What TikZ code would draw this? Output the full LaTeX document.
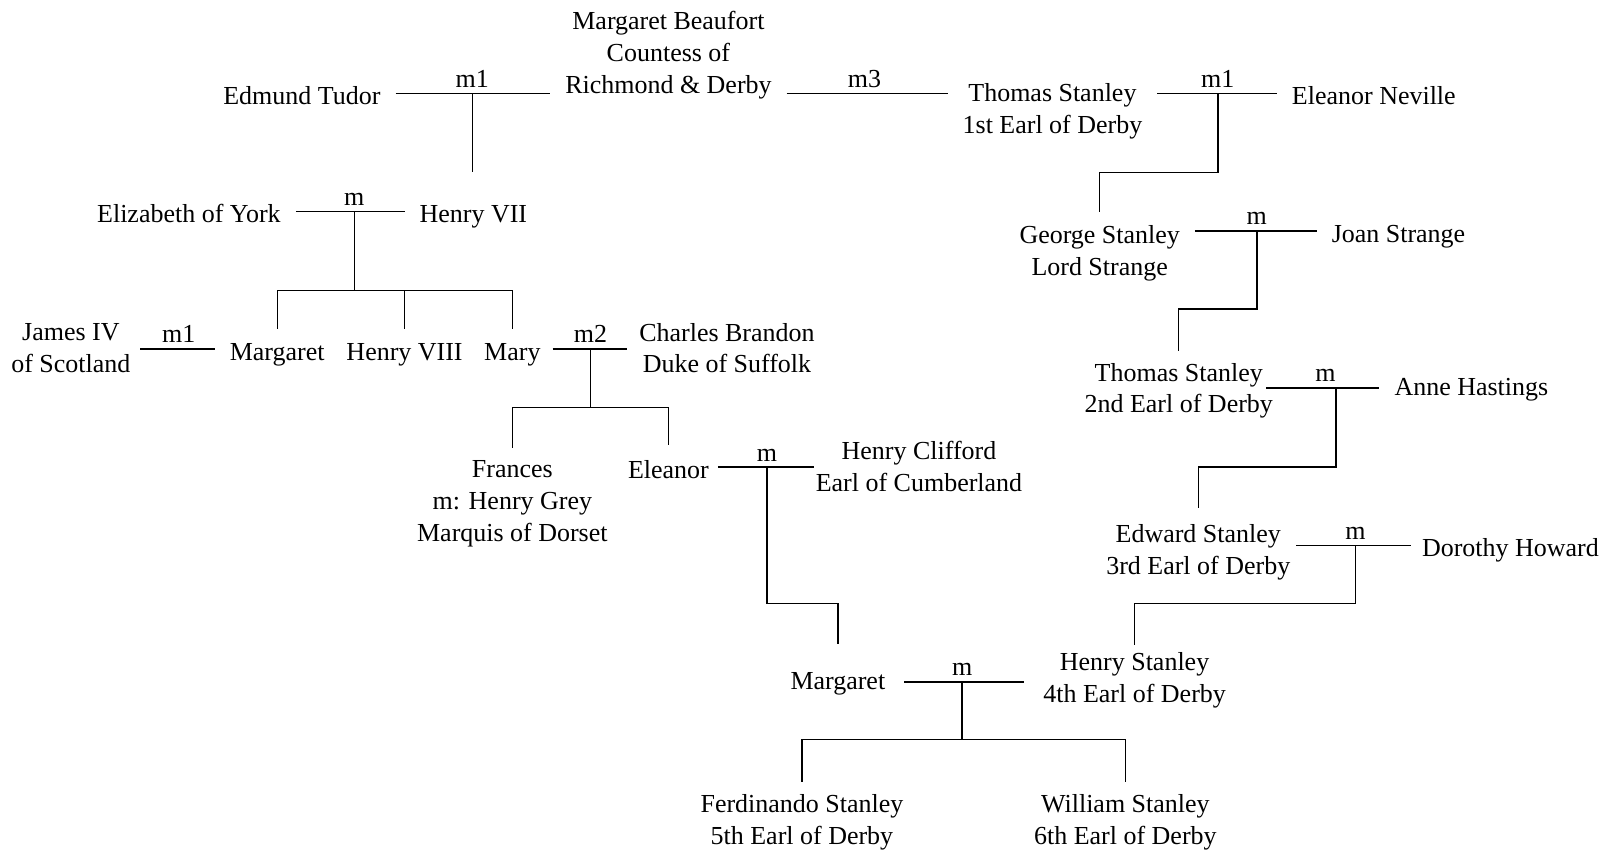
\documentclass[tikz,border=0pt]{standalone}
\usepackage{fontspec}
\setmainfont{Liberation Serif}
\begin{document}
\begin{tikzpicture}[x=0.5pt,y=-0.5pt,line width=0.7pt,
  person/.style={align=center,inner ysep=0pt,inner xsep=7pt,font=\fontsize{12.65}{15.5}\selectfont,
    execute at begin node=\strut,execute at end node=\strut},
  mlabel/.style={anchor=base,inner sep=0pt,font=\fontsize{12.65}{15.5}\selectfont}]
\useasboundingbox (0,0) rectangle (1568,829);
\node[person] (edmund) at (294,95.5) {Edmund Tudor};
\node[person] (beaufort) at (651,55.5) {Margaret Beaufort\\Countess of\\Richmond \& Derby};
\node[person] (stanleyA) at (1025,110.5) {Thomas Stanley\\1st Earl of Derby};
\node[person] (eleanorN) at (1338,95.5) {Eleanor Neville};
\node[person] (elizabeth) at (184,210.5) {Elizabeth of York};
\node[person] (henry7) at (461,210.5) {Henry VII};
\node[person] (james) at (69,343.5) {James IV\\of Scotland};
\node[person] (margaretT) at (270,344.5) {Margaret};
\node[person] (henry8) at (394,344.5) {Henry VIII};
\node[person] (mary) at (499,344.5) {Mary};
\node[person] (brandon) at (708,343.5) {Charles Brandon\\Duke of Suffolk};
\node[person] (frances) at (499,492.5) {Frances\\m: Henry Grey\\Marquis of Dorset};
\node[person] (eleanorB) at (651,459.5) {Eleanor};
\node[person] (clifford) at (895,458.5) {Henry Clifford\\Earl of Cumberland};
\node[person] (george) at (1071,248.5) {George Stanley\\Lord Strange};
\node[person] (joan) at (1362,229.5) {Joan Strange};
\node[person] (stanleyB) at (1148,382.5) {Thomas Stanley\\2nd Earl of Derby};
\node[person] (anne) at (1433,378.5) {Anne Hastings};
\node[person] (edward) at (1167,539.5) {Edward Stanley\\3rd Earl of Derby};
\node[person] (dorothy) at (1471,535.5) {Dorothy Howard};
\node[person] (henryS) at (1105,664.5) {Henry Stanley\\4th Earl of Derby};
\node[person] (margaretC) at (816,665.5) {Margaret};
\node[person] (ferdinando) at (781,802.5) {Ferdinando Stanley\\5th Earl of Derby};
\node[person] (william) at (1096,802.5) {William Stanley\\6th Earl of Derby};
\coordinate (j1) at (460,91);
\coordinate (j2) at (842,91);
\coordinate (j3) at (1186,91);
\coordinate (j4) at (345,206);
\coordinate (j5) at (174,340);
\coordinate (j6) at (575,340);
\coordinate (j7) at (747,455);
\coordinate (j8) at (1224,225);
\coordinate (j9) at (1301,378);
\coordinate (j10) at (1320,531);
\coordinate (j11) at (937,664);
\node[mlabel] (l1) at (460,85) {m1};
\node[mlabel] (l2) at (842,85) {m3};
\node[mlabel] (l3) at (1186,85) {m1};
\node[mlabel] (l4) at (345,200) {m};
\node[mlabel] (l5) at (174,334) {m1};
\node[mlabel] (l6) at (575,334) {m2};
\node[mlabel] (l7) at (747,449) {m};
\node[mlabel] (l8) at (1224,219) {m};
\node[mlabel] (l9) at (1291,372) {m};
\node[mlabel] (l10) at (1320,525) {m};
\node[mlabel] (l11) at (937,658) {m};
\draw (edmund.east |- j1) -- (beaufort.west |- j1);
\draw (beaufort.east |- j2) -- (stanleyA.west |- j2);
\draw (stanleyA.east |- j3) -- (eleanorN.west |- j3);
\draw (elizabeth.east |- j4) -- (henry7.west |- j4);
\draw ([xshift=-2.5pt]james.east |- j5) -- (margaretT.west |- j5);
\draw ([xshift=-1.5pt]mary.east |- j6) -- ([xshift=1.5pt]brandon.west |- j6);
\draw ([xshift=-3pt]eleanorB.east |- j7) -- ([xshift=6.5pt]clifford.west |- j7);
\draw (george.east |- j8) -- (joan.west |- j8);
\draw ([xshift=-10.5pt]stanleyB.east |- j9) -- (anne.west |- j9);
\draw ([xshift=-4.5pt]edward.east |- j10) -- ([xshift=2pt]dorothy.west |- j10);
\draw ([xshift=2pt]margaretC.east |- j11) -- ([xshift=-2pt]henryS.west |- j11);
\draw (j1) -- ([yshift=13.5pt]henry7.north -| j1);
\draw (j3) -- ++(0,77) -| ([yshift=6.25pt]george.north);
\draw (j4) -- ++(0,77) coordinate (b4);
\draw ([yshift=4pt]margaretT.north) |- (mary.north |- b4) -- ([yshift=4pt]mary.north);
\draw (henry8.north |- b4) -- ([yshift=4pt]henry8.north);
\draw (j6) -- ++(0,57) coordinate (b6);
\draw ([yshift=6pt]frances.north) |- (eleanorB.north |- b6) -- ([yshift=5pt]eleanorB.north);
\draw (j7) -- ++(0,133) -| ([yshift=11.25pt]margaretC.north);
\draw (j8) -- ++(0,76) -| ([yshift=5.75pt]stanleyB.north);
\draw (j9) -- ++(0,77) -| ([yshift=7.75pt]edward.north);
\draw (j10) -- ++(0,57) -| ([yshift=3.25pt]henryS.north);
\draw (j11) -- ++(0,56) coordinate (b11);
\draw ([yshift=5.75pt]ferdinando.north) |- (william.north |- b11) -- ([yshift=5.75pt]william.north);
\end{tikzpicture}
\end{document}
